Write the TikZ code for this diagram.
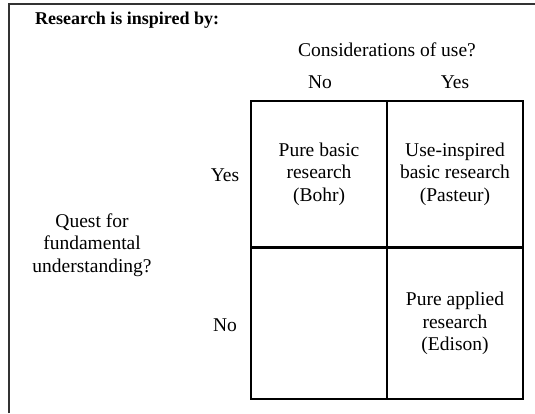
\documentclass[tikz,border=0pt]{standalone}
\usepackage{fontspec}
\setmainfont{Liberation Serif}
\begin{document}
\begin{tikzpicture}[x=1pt,y=-1pt,
  txt/.style={inner sep=0pt,align=center,font=\fontsize{19.5}{22.5}\selectfont},
  cell/.style={draw=black,line width=1.6pt,inner sep=0pt,minimum width=136pt,txt}]
  \useasboundingbox[fill=white] (0,0) rectangle (535,413);
  % outer frame (top and left edges)
  \draw[line width=1.4pt,black!80] (9,413) -- (9,4) -- (535,4);
  % title
  \node[txt,anchor=west,font=\fontsize{18}{22.5}\selectfont\bfseries] (title) at (35,20) {Research is inspired by:};
  % column header
  \node[txt] (use) at (387,50) {Considerations of use?};
  \node[txt] (colno) at (320,82) {No};
  \node[txt] (colyes) at (455,82) {Yes};
  % row header
  \node[txt] (quest) at (92,245) {Quest for\\fundamental\\understanding?};
  \node[txt] (rowyes) at (225,175) {Yes};
  \node[txt] (rowno) at (225,325) {No};
  % the four quadrants
  \node[cell,minimum height=146pt] (bohr) at (319,174) {Pure basic\\research\\(Bohr)};
  \node[cell,minimum height=146pt] (pasteur) at (455,174) {Use-inspired\\basic research\\(Pasteur)};
  \node[cell,minimum height=151pt] (empty) at (319,323.5) {};
  \node[cell,minimum height=151pt] (edison) at (455,323.5) {Pure applied\\research\\(Edison)};
\end{tikzpicture}
\end{document}
